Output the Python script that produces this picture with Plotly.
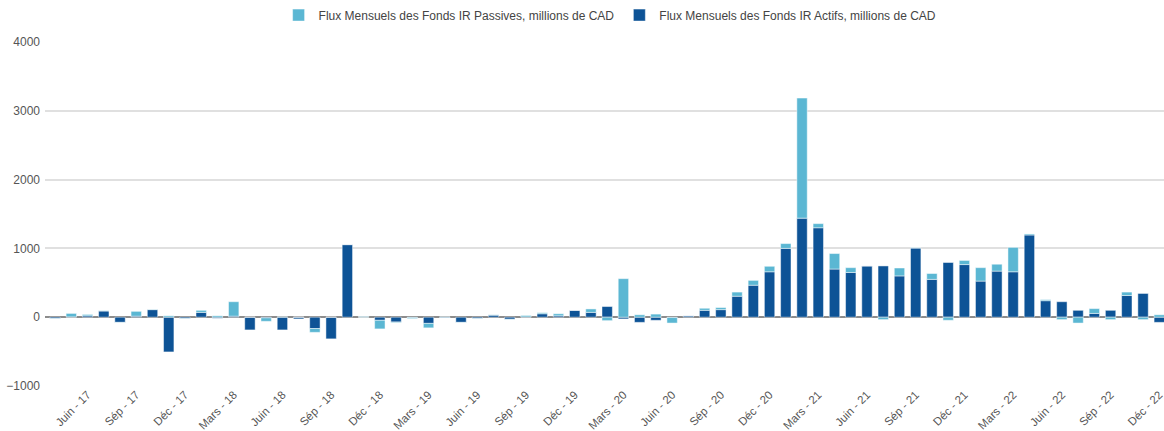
import plotly.graph_objects as go

months = ["Janv", "Févr", "Mars", "Avr", "Mai", "Juin", "Juil", "Août", "Sép", "Oct", "Nov", "Déc"]
categories = []
for yr in range(17, 23):
    for mi, m in enumerate(months):
        if yr == 17 and mi < 3:
            continue
        categories.append(f"{m} - {yr}")

actifs = [-20, 5, 20, 90, -75, 15, 110, -505, -20, 70, -15, 15,
          -185, -10, -185, -25, -165, -315, 1055, 0, -45, -70, -5, -90,
          -10, -75, -20, 30, -30, 5, 50, 20, 100, 70, 155, -25,
          -75, -45, -5, 20, 100, 110, 305, 465, 660, 1000, 1440, 1300,
          700, 650, 745, 745, 600, 1005, 550, 795, 765, 525, 670, 660,
          1195, 240, 225, 100, 55, 100, 315, 345, -75]
passives = [-5, 50, 20, 5, -5, 70, 5, 20, -5, 30, 20, 210,
            0, -50, 5, 0, -55, 0, 0, 10, -125, -10, -15, -65,
            5, -5, -5, 5, -5, 20, 15, 30, 0, 50, -50, 560,
            35, 45, -80, 0, 30, 30, 60, 70, 80, 70, 1745, 60,
            225, 70, 0, -35, 115, 5, 85, -45, 60, 195, 100, 355,
            15, 15, -35, -85, 70, -35, 50, -35, 35]

tick_labels = categories[2::3]

name_p = "Flux Mensuels des Fonds IR Passives, millions de CAD"
name_a = "Flux Mensuels des Fonds IR Actifs, millions de CAD"
c_light = "#5bb7d3"
c_dark = "#0d5396"

fig = go.Figure()
fig.add_trace(go.Bar(x=categories, y=actifs, name=name_a, marker_color=c_dark,
                     marker_line=dict(color="rgba(255,255,255,0.6)", width=0.8), legendrank=2))
fig.add_trace(go.Bar(x=categories, y=passives, name=name_p, marker_color=c_light,
                     marker_line=dict(color="rgba(255,255,255,0.6)", width=0.8), legendrank=1))

fig.update_layout(
    width=1164, height=431,
    barmode="relative", bargap=0.36,
    plot_bgcolor="white", paper_bgcolor="white",
    font=dict(family="Liberation Sans, Arial, sans-serif", size=12, color="#555"),
    margin=dict(l=45, r=0, t=42, b=45, autoexpand=False),
    legend=dict(orientation="h", x=0.505, xanchor="center", yref="container", y=0.965,
                yanchor="middle", font=dict(size=12, color="#444"), traceorder="normal",
                itemwidth=30),
    xaxis=dict(type="category", tickmode="array", tickvals=tick_labels, ticktext=tick_labels,
               tickangle=-45, range=[-0.62, 68.29], showgrid=False, showline=False,
               ticks="", tickfont=dict(size=11.5, color="#555"), ticklabelstandoff=-1,
               automargin=False),
    yaxis=dict(range=[-1000, 4000], dtick=1000, showgrid=True, gridcolor="#e0e0e0",
               gridwidth=1.5, zeroline=True, zerolinecolor="#8c8c8c", zerolinewidth=2,
               tickfont=dict(size=12, color="#555"), ticks="", ticklabelstandoff=4,
               automargin=False),
)

fig.write_html("out.html", post_script="document.body.style.margin='0';",
               config={"displayModeBar": False})
